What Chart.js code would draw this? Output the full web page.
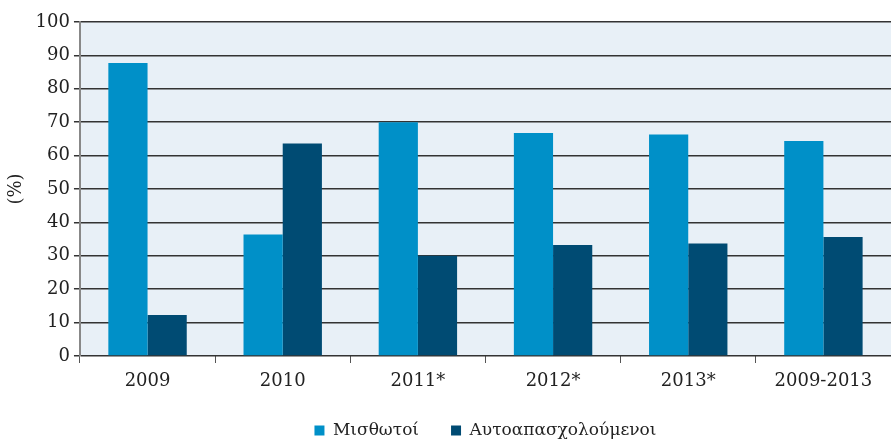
<!DOCTYPE html>
<html>
<head>
<meta charset="utf-8">
<script src="https://cdn.jsdelivr.net/npm/chart.js@4/dist/chart.umd.min.js"></script>
<style>
  html, body { margin: 0; padding: 0; background: #fff; }
  #wrap { width: 891px; height: 440px; }
</style>
</head>
<body>
<div id="wrap"><canvas id="chart"></canvas></div>
<script>
const categories = ["2009", "2010", "2011*", "2012*", "2013*", "2009-2013"];
const misthotoi = [87.7, 36.4, 70.0, 66.8, 66.3, 64.4];
const autoapasx = [12.3, 63.6, 30.0, 33.2, 33.7, 35.6];
const yTicks = [0, 10, 20, 30, 40, 50, 60, 70, 80, 90, 100];

const serif = "'DejaVu Serif', 'Liberation Serif', serif";

// light blue plot background
const plotBg = {
  id: "plotBg",
  beforeDraw(chart) {
    const { ctx, chartArea: { left, top, width, height } } = chart;
    ctx.save();
    ctx.fillStyle = "#e8f0f7";
    ctx.fillRect(left, top, width, height);
    ctx.restore();
  }
};

new Chart(document.getElementById("chart"), {
  type: "bar",
  data: {
    labels: categories,
    datasets: [
      { label: "Μισθωτοί", data: misthotoi, backgroundColor: "#0090c8" },
      { label: "Αυτοαπασχολούμενοι", data: autoapasx, backgroundColor: "#004b73" }
    ]
  },
  options: {
    responsive: true,
    maintainAspectRatio: false,
    animation: false,
    layout: { padding: { top: 22, right: 0, left: 6, bottom: 0 } },
    datasets: { bar: { categoryPercentage: 0.58, barPercentage: 1.0 } },
    scales: {
      x: {
        offset: true,
        // keep the axis box short so the legend can sit closer
        afterFit(axis) { axis.height = 34; },
        grid: {
          offset: true,
          drawOnChartArea: false,
          drawTicks: true,
          tickLength: 7,
          color: "#555"
        },
        border: { display: false },
        ticks: { color: "#222", font: { family: serif, size: 18 }, padding: 8 }
      },
      y: {
        min: 0,
        max: 100,
        afterBuildTicks(axis) { axis.ticks = yTicks.map(v => ({ value: v })); },
        grid: { color: "#333", lineWidth: 1.5, tickLength: 6 },
        border: { display: true, color: "#888", width: 2 },
        ticks: { color: "#222", font: { family: serif, size: 18 }, padding: 4 },
        title: {
          display: true,
          text: "(%)",
          color: "#222",
          font: { family: serif, size: 18 },
          padding: { top: 0, bottom: 4 }
        }
      }
    },
    plugins: {
      legend: {
        position: "bottom",
        fullSize: false,
        maxHeight: 50,
        labels: {
          color: "#222",
          font: { family: serif, size: 17 },
          boxWidth: 10,
          boxHeight: 10,
          padding: 32
        }
      },
      tooltip: { enabled: false }
    }
  },
  plugins: [plotBg]
});
</script>
</body>
</html>
